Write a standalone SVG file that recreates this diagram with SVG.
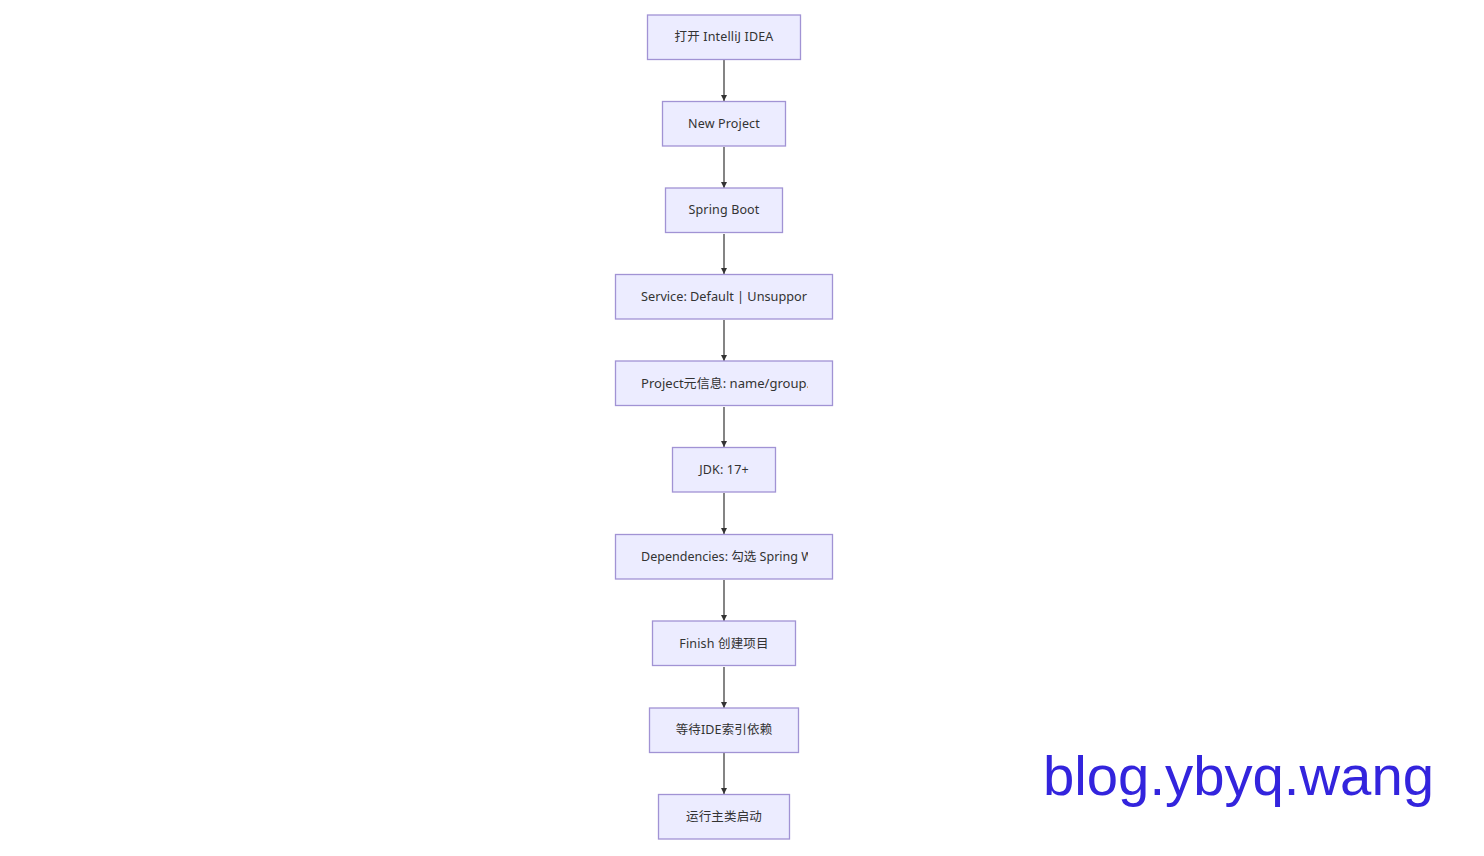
<svg xmlns="http://www.w3.org/2000/svg" width="1484" height="856" viewBox="0 0 1484 856">
<style>
.box{fill:#ECECFF;stroke:#A193D4;stroke-width:1.3}
.lbl{font-family:"Noto Sans","Noto Sans CJK SC",sans-serif;font-size:12.5px;fill:#333;text-anchor:middle;letter-spacing:0.15px}
.lbs{font-family:"Noto Sans","Noto Sans CJK SC",sans-serif;font-size:12.5px;fill:#333;text-anchor:start}
.edge{stroke:#333;stroke-width:1.2;fill:none;marker-end:url(#arr)}
</style>
<defs>
<marker id="arr" viewBox="0 0 10 10" refX="10" refY="5" markerWidth="6" markerHeight="6" markerUnits="userSpaceOnUse" orient="auto">
<path d="M0,0L10,5L0,10z" fill="#333"/>
</marker>
<clipPath id="clipw"><rect x="630" y="0" width="178" height="856"/></clipPath>
</defs>
<rect width="1484" height="856" fill="#fff"/>
<g id="edges">
<line class="edge" x1="724" y1="60" x2="724" y2="101"/>
<line class="edge" x1="724" y1="147" x2="724" y2="188"/>
<line class="edge" x1="724" y1="234" x2="724" y2="274"/>
<line class="edge" x1="724" y1="320" x2="724" y2="361"/>
<line class="edge" x1="724" y1="407" x2="724" y2="447"/>
<line class="edge" x1="724" y1="493" x2="724" y2="534"/>
<line class="edge" x1="724" y1="580" x2="724" y2="621"/>
<line class="edge" x1="724" y1="667" x2="724" y2="708"/>
<line class="edge" x1="724" y1="753" x2="724" y2="794"/>
</g>
<g id="n1"><rect class="box" x="647.5" y="15" width="153" height="44.5"/><text class="lbl" x="724" y="41">打开 IntelliJ IDEA</text></g>
<g id="n2"><rect class="box" x="662.5" y="101.5" width="123" height="44.5"/><text class="lbl" x="724" y="128">New Project</text></g>
<g id="n3"><rect class="box" x="665.5" y="188" width="117" height="44.5"/><text class="lbl" x="724" y="214">Spring Boot</text></g>
<g id="n4"><rect class="box" x="615.5" y="274.5" width="217" height="44.5"/><text class="lbs" x="641" y="301" textLength="166" lengthAdjust="spacingAndGlyphs" clip-path="url(#clipw)">Service: Default | Unsuppor</text></g>
<g id="n5"><rect class="box" x="615.5" y="361" width="217" height="44.5"/><text class="lbs" x="641" y="388" textLength="169" lengthAdjust="spacingAndGlyphs" clip-path="url(#clipw)">Project元信息: name/group.</text></g>
<g id="n6"><rect class="box" x="672.5" y="447.5" width="103" height="44.5"/><text class="lbl" x="724" y="474">JDK: 17+</text></g>
<g id="n7"><rect class="box" x="615.5" y="534.5" width="217" height="44.5"/><text class="lbs" x="641" y="561" textLength="172" lengthAdjust="spacingAndGlyphs" clip-path="url(#clipw)">Dependencies: 勾选 Spring W</text></g>
<g id="n8"><rect class="box" x="652.5" y="621" width="143" height="44.5"/><text class="lbl" x="724" y="648">Finish 创建项目</text></g>
<g id="n9"><rect class="box" x="649.5" y="708" width="149" height="44.5"/><text class="lbl" x="724" y="734">等待IDE索引依赖</text></g>
<g id="n10"><rect class="box" x="658.5" y="794.5" width="131" height="44.5"/><text class="lbl" x="724" y="821">运行主类启动</text></g>
<text x="1043" y="795" font-family="Liberation Sans, sans-serif" font-size="56" fill="#3324DD" textLength="391" lengthAdjust="spacingAndGlyphs">blog.ybyq.wang</text>
</svg>
